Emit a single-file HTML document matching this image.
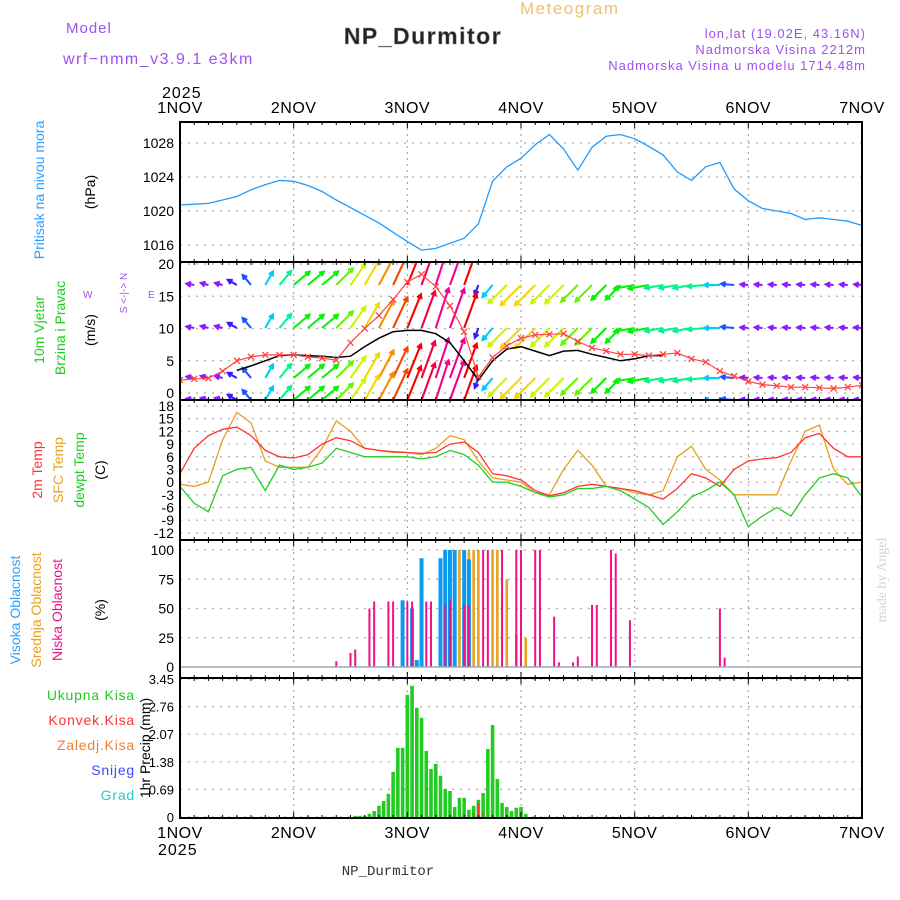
<!DOCTYPE html>
<html><head><meta charset="utf-8"><style>
html,body{margin:0;padding:0;background:#fff;}
svg{display:block;font-family:"Liberation Sans",sans-serif;}
</style></head><body>
<svg id="chart" width="900" height="900" viewBox="0 0 900 900">
<text x="66" y="33" fill="#a050f0" font-size="15" letter-spacing="1">Model</text>
<text x="63" y="64" fill="#a050f0" font-size="16" letter-spacing="1.5">wrf−nmm_v3.9.1 e3km</text>
<text x="520" y="14" fill="#f0c070" font-size="17" letter-spacing="1.5">Meteogram</text>
<text x="423" y="44" fill="#222" font-size="23" font-weight="bold" text-anchor="middle" letter-spacing="1.5" stroke="#888" stroke-width="0.6">NP_Durmitor</text>
<text x="866" y="38" fill="#a050f0" font-size="13" text-anchor="end" letter-spacing="1">lon,lat (19.02E, 43.16N)</text>
<text x="866" y="54" fill="#a050f0" font-size="13" text-anchor="end" letter-spacing="1">Nadmorska Visina 2212m</text>
<text x="866" y="70" fill="#a050f0" font-size="13" text-anchor="end" letter-spacing="1">Nadmorska Visina u modelu 1714.48m</text>
<text x="162" y="98" fill="#000" font-size="16" letter-spacing="1">2025</text>
<text x="158" y="855" fill="#000" font-size="16" letter-spacing="1">2025</text>
<text x="388" y="875" fill="#333" font-size="14" text-anchor="middle" font-family="Liberation Mono, monospace">NP_Durmitor</text>
<text transform="translate(886,580) rotate(-90)" fill="#ccd8cc" font-size="14" text-anchor="middle" font-family="Liberation Serif, serif">made by Angel</text>

<text transform="translate(44,190) rotate(-90)" fill="#2aa0ff" font-size="14" text-anchor="middle">Pritisak na nivou mora</text>
<text transform="translate(95,192) rotate(-90)" fill="#000" font-size="14" text-anchor="middle">(hPa)</text>
<text transform="translate(44,330) rotate(-90)" fill="#22cc22" font-size="14" text-anchor="middle">10m Vjetar</text>
<text transform="translate(65,328) rotate(-90)" fill="#22cc22" font-size="14" text-anchor="middle">Brzina i Pravac</text>
<text transform="translate(95,330) rotate(-90)" fill="#000" font-size="14" text-anchor="middle">(m/s)</text>
<text transform="translate(127,293) rotate(-90)" fill="#a050f0" font-size="10" text-anchor="middle">S &lt;-|-&gt; N</text>
<text x="83" y="298" fill="#a050f0" font-size="10">W</text>
<text x="148" y="298" fill="#a050f0" font-size="10">E</text>
<text transform="translate(42,470) rotate(-90)" fill="#ff3333" font-size="14" text-anchor="middle">2m Temp</text>
<text transform="translate(63,470) rotate(-90)" fill="#e8a020" font-size="14" text-anchor="middle">SFC Temp</text>
<text transform="translate(84,470) rotate(-90)" fill="#22cc22" font-size="14" text-anchor="middle">dewpt Temp</text>
<text transform="translate(105,470) rotate(-90)" fill="#000" font-size="14" text-anchor="middle">(C)</text>
<text transform="translate(20,610) rotate(-90)" fill="#2aa0ff" font-size="14" text-anchor="middle">Visoka Oblacnost</text>
<text transform="translate(41,610) rotate(-90)" fill="#e8a020" font-size="14" text-anchor="middle">Srednja Oblacnost</text>
<text transform="translate(62,610) rotate(-90)" fill="#ee1188" font-size="14" text-anchor="middle">Niska Oblacnost</text>
<text transform="translate(105,610) rotate(-90)" fill="#000" font-size="14" text-anchor="middle">(%)</text>
<text x="135" y="700" fill="#22cc22" font-size="14" text-anchor="end" letter-spacing="0.8">Ukupna Kisa</text>
<text x="135" y="725" fill="#ff3333" font-size="14" text-anchor="end" letter-spacing="0.8">Konvek.Kisa</text>
<text x="135" y="750" fill="#f08030" font-size="14" text-anchor="end" letter-spacing="0.8">Zaledj.Kisa</text>
<text x="135" y="775" fill="#4444ff" font-size="14" text-anchor="end" letter-spacing="0.8">Snijeg</text>
<text x="135" y="800" fill="#22cccc" font-size="14" text-anchor="end" letter-spacing="0.8">Grad</text>
<text transform="translate(150,748) rotate(-90)" fill="#000" font-size="14" text-anchor="middle">1hr Precip (mm)</text>
<g id="plot"></g>
</svg>
<script>
const dayLabels = ["1NOV","2NOV","3NOV","4NOV","5NOV","6NOV","7NOV"];
const pressTicks = [1016,1020,1024,1028];
const windTicks = [0,5,10,15,20];
const tempTicks = [18,15,12,9,6,3,0,-3,-6,-9,-12];
const cloudTicks = [0,25,50,75,100];
const precipTicks = [0,0.69,1.38,2.07,2.76,3.45];
const pressure = [1020.7,1020.8,1020.9,1021.3,1021.7,1022.5,1023.1,1023.6,1023.5,1023.0,1022.3,1021.3,1020.4,1019.5,1018.6,1017.5,1016.4,1015.4,1015.6,1016.2,1016.8,1018.5,1023.5,1025.2,1026.2,1027.8,1029.0,1027.3,1024.8,1027.5,1028.8,1029.0,1028.5,1027.6,1026.6,1024.6,1023.6,1025.2,1025.7,1022.6,1021.2,1020.3,1020.0,1019.7,1019.0,1019.2,1019.0,1018.8,1018.3];
const temp2m = [2,8,11,12.5,13,11,7.5,6,5.7,6.5,9,10.5,9.8,8,7.5,7.2,7,6.8,7,9,9.5,7,2,1.5,0.5,-2,-3.2,-2.5,-1,-0.5,-1,-1.5,-2,-3,-4,-1.5,2,1,-1,3,5,5.5,5.8,7,10.5,11.5,8,6,6];
const tempSfc = [-0.5,-1,0,10,16.5,14,5,3.5,3.5,3.5,8,14.5,12,8,7.5,7,7,6.5,8,11,10,5,1,0.5,0,-2.5,-3,3,7.5,4,-1,-1.5,-2.5,-3,-2,6,8.5,3,0.5,-3,-3,-3,-3,5,12,13.5,3,-0.5,0];
const dewpt = [-1,-5,-7,1.5,3,3.5,-2,4,3,3.5,4.5,8,7,6,6,6,6,5.5,6,7.5,6.5,4,0,0,-1,-2.5,-3.5,-3,-1.5,-1.5,-1,-2,-4,-6,-10,-7,-3.5,-2,0,-3,-10.5,-8,-6,-8,-3,1,2,1,-3.5];
const windGust = [2.0,2.2,2.3,3.4,5.0,5.6,5.9,5.9,5.9,5.6,5.4,5.1,7.8,10.0,12.0,14.5,17.2,18.4,16.5,13.5,9.5,2.5,5.5,7.3,8.5,9.0,9.1,9.2,8.0,7.0,6.5,6.0,6.0,5.8,6.0,6.2,5.3,4.8,3.4,2.6,1.8,1.3,1.1,0.9,0.9,0.8,0.7,0.9,1.2];
const windSpeed = [null,null,null,null,3.5,4.2,5.0,5.8,5.9,5.8,5.7,5.5,5.7,7.2,8.5,9.5,9.7,9.7,9.2,7.8,5.0,2.0,5.0,6.8,7.2,6.5,5.8,6.5,6.6,6.0,5.5,5.0,5.3,5.8,5.8,null,null,null,null,null,null,null,null,null,null,null,null,null,null];
const arrowSpd = [3,3,3,3,4,5,6,7,8,8,8,9,10,11,12,13,14,15,16,16,14,4,6,10,11,11,10,10,9,9,8,8,8,8,7,7,7,7,6,5,3,3,3,3,3,3,3,3,3];
const arrowDir = [170,170,165,165,150,130,60,50,40,40,40,45,55,60,62,65,68,70,72,70,70,250,230,225,225,225,225,225,225,225,225,225,190,190,190,190,190,185,180,175,175,175,175,175,175,175,175,175,175];
const lowHours = [33,36,37,40,41,44,45,48,49,52,53,56,57,60,61,64,65,68,71,72,75,76,79,80,83,84,87,88,91,92,95,114,115];
const lowVals = [5,12,15,50,56,56,56,56,56,56,56,53,57,53,53,100,100,100,100,100,100,100,43,4,4,9,53,53,100,97,40,50,8];
const midHours = [56,58,59,60,61,62,63,66,67,69,71,73];
const midVals = [16,50,100,100,100,100,100,100,100,75,28,25];
const highHours = [47,49,50,51,55,56,57,58,60,61];
const highVals = [57,50,6,93,93,100,100,100,100,92];
const precipStart = 37;
const precipTotal = [0.03,0.03,0.03,0.08,0.15,0.28,0.4,0.58,1.13,1.73,1.73,3.05,3.28,2.73,2.48,1.65,1.2,1.33,1.03,0.7,0.65,0.25,0.48,0.48,0.18,0.28,0.43,0.6,1.7,2.3,0.95,0.35,0.25,0.15,0.23,0.25,0.08];
const convHours = [62,63,64];
const convVals = [0.1,0.35,0.1];

const X0=180, X1=862, HRS=144;
const xH = h => X0 + h*(X1-X0)/HRS;
const yP = p => 245 - (p-1016)*8.5;
const yW = v => 393 - v*6.45;
const yT = t => 406 + (18-t)*4.23;
const yC = c => 667 - c*1.17;
const yR = v => 817 - v*40;
const panels = [[122,262],[262,400],[400,540],[540,678],[678,818]];

const NS="http://www.w3.org/2000/svg";
const plot=document.getElementById('plot');
function mk(tag,attrs,parent){const e=document.createElementNS(NS,tag);for(const k in attrs)e.setAttribute(k,attrs[k]);(parent||plot).appendChild(e);return e;}

const defs=mk('defs',{});
panels.forEach((p,i)=>{const c=mk('clipPath',{id:'clip'+i},defs);mk('rect',{x:X0,y:p[0],width:X1-X0,height:p[1]-p[0]},c);});

const grid=mk('g',{});


panels.forEach(p=>{
  for(let d=1;d<6;d++){const l=mk('line',{x1:xH(d*24),x2:xH(d*24),y1:p[0],y2:p[1],stroke:'#aaa','stroke-dasharray':'2,4','stroke-width':1.2},grid);
  
  }
});
function hgrid(vals,fy,fmt,name,fs){
  vals.forEach(v=>{
    const y=fy(v);
    const l=mk('line',{x1:X0,x2:X1,y1:y,y2:y,stroke:'#aaa','stroke-dasharray':'2,6','stroke-width':1.2},grid);
    
    
    const t=mk('text',{x:X0-6,y:y+5,'text-anchor':'end','font-size':fs||14,fill:'#000'});
    t.textContent=fmt(v);
    
    
  });
}
hgrid(pressTicks,yP,v=>v,'pressure');
hgrid(windTicks,yW,v=>v,'wind');
hgrid(tempTicks,yT,v=>v,'temp');
hgrid(cloudTicks,yC,v=>v,'cloud');
hgrid(precipTicks,yR,v=>v===0?'0':String(v),'precip',13);

function line(vals,fx,fy,color,clip,name,w){
  let d='';let pen=false;
  vals.forEach((v,i)=>{if(v===null){pen=false;return;}d+=(pen?'L':'M')+fx(i).toFixed(1)+','+fy(v).toFixed(1);pen=true;});
  const p=mk('path',{d:d,fill:'none',stroke:color,'stroke-width':w||1.3,'clip-path':'url(#clip'+clip+')'});
  
  
  return p;
}
const x3=i=>xH(i*3);
line(pressure,x3,yP,'#1e9bff',0,'pressure-line');

function spdColor(s){
  const stops=[[3,270],[5,225],[6,190],[8,120],[10,70],[12,35],[14,0],[16,-35]];
  let h=stops[0][1];
  if(s>=stops[stops.length-1][0])h=stops[stops.length-1][1];
  else for(let k=0;k<stops.length-1;k++){if(s>=stops[k][0]&&s<stops[k+1][0]){const f=(s-stops[k][0])/(stops[k+1][0]-stops[k][0]);h=stops[k][1]+f*(stops[k+1][1]-stops[k][1]);}}
  if(s<stops[0][0])h=270;
  return 'hsl('+((h+360)%360)+',100%,'+(h>200&&h<300?55:48)+'%)';
}
const arrowRows=[285,328,378,400];
const wg=mk('g',{'clip-path':'url(#clip1)'});


arrowRows.forEach(by=>{
  arrowSpd.forEach((s,i)=>{
    const L=s*2.6, a=arrowDir[i]*Math.PI/180;
    const x=x3(i), x2=x+L*Math.cos(a), y2=by-L*Math.sin(a);
    const c=spdColor(s);
    const g=mk('g',{stroke:c,'stroke-width':2.1,fill:'none'},wg);
    
    
    mk('line',{x1:x,y1:by,x2:x2,y2:y2},g);
    const h1=a+Math.PI-0.5,h2=a+Math.PI+0.5;
    mk('path',{d:`M${x2+5*Math.cos(h1)},${y2-5*Math.sin(h1)}L${x2},${y2}L${x2+5*Math.cos(h2)},${y2-5*Math.sin(h2)}`},g);
  });
});
line(windSpeed,x3,yW,'#000',1,'wind-speed-line',1.5);
line(windGust,x3,yW,'#ff4444',1,'wind-gust-line',1.2);
windGust.forEach((v,i)=>{
  const x=x3(i),y=yW(v);
  const m=mk('path',{d:`M${x-3},${y-3}L${x+3},${y+3}M${x-3},${y+3}L${x+3},${y-3}`,stroke:'#ff4444','stroke-width':1.3,'clip-path':'url(#clip1)'});
  
  
});

line(tempSfc,x3,yT,'#e8a020',2,'sfc-temp-line');
line(temp2m,x3,yT,'#ff3333',2,'temp2m-line');
line(dewpt,x3,yT,'#22cc22',2,'dewpt-line');

function bars(hours,vals,fy,color,w,name,clip){
  hours.forEach((h,i)=>{
    const x=xH(h),y=fy(vals[i]),y0=fy(0);
    const r=mk('rect',{x:x-w/2,y:y,width:w,height:y0-y,fill:color,'clip-path':'url(#clip'+clip+')'});
    
    
  });
}
bars(midHours,midVals,yC,'#e8a020',2.6,'mid-cloud-bar',3);
bars(highHours,highVals,yC,'#0a9bf0',4,'high-cloud-bar',3);
bars(lowHours,lowVals,yC,'#ee1188',2,'low-cloud-bar',3);
const bl=mk('line',{x1:X0,x2:X1,y1:yC(0),y2:yC(0),stroke:'#9ab','stroke-width':1.5});



const pHours=precipTotal.map((v,i)=>precipStart+i);
bars(pHours,precipTotal,yR,'#22cc22',3.6,'precip-bar',4);
bars(convHours,convVals,yR,'#ff3333',1.6,'convective-bar',4);

panels.forEach((p,i)=>{
  const r=mk('rect',{x:X0,y:p[0],width:X1-X0,height:p[1]-p[0],fill:'none',stroke:'#000','stroke-width':2});
  
  
  for(let h=0;h<=HRS;h+=3){
    const len=h%24===0?6:3;
    mk('line',{x1:xH(h),x2:xH(h),y1:p[1],y2:p[1]-len,stroke:'#000','stroke-width':1});
    mk('line',{x1:xH(h),x2:xH(h),y1:p[0],y2:p[0]+len,stroke:'#000','stroke-width':1});
  }
});
dayLabels.forEach((d,i)=>{
  const t=mk('text',{x:xH(i*24),y:113,'text-anchor':'middle','font-size':16,fill:'#000','letter-spacing':0.5});
  t.textContent=d;
  
  
  const b=mk('text',{x:xH(i*24),y:838,'text-anchor':'middle','font-size':16,fill:'#000','letter-spacing':0.5});
  b.textContent=d;
  
  
});
</script>
</body></html>
